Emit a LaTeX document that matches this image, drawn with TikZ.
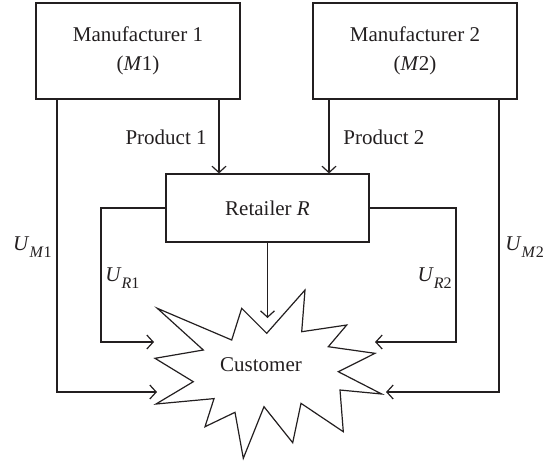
\documentclass[tikz,border=0pt]{standalone}
\usepackage{fontspec}
\setmainfont{Liberation Serif}
\usetikzlibrary{arrows.meta}
\definecolor{inkc}{RGB}{35,31,32}
% utility symbol U with an italic party letter and an upright index
\newcommand{\utilsym}[2]{\textit{U}\raisebox{-0.32em}{\fontsize{8}{9}\selectfont\textit{#1}#2}}
\begin{document}
\begin{tikzpicture}[x=0.5pt,y=-0.5pt,
  ink/.style={draw=inkc, line width=0.6pt},
  box/.style={ink, rectangle, minimum width=102pt, inner sep=0pt, align=center,
    font=\fontsize{10.5}{14.5}\selectfont, text=inkc},
  flow/.style={ink, -{Straight Barb[length=3.2pt,width=7pt]}},
  lbl/.style={font=\fontsize{10.5}{12}\selectfont, text=inkc, inner sep=0pt}]
\useasboundingbox (0,0) rectangle (555,462);

% parties
\node[box, minimum height=48pt] (M1) at (138,51) {Manufacturer 1\\(\textit{M}1)};
\node[box, minimum height=48pt] (M2) at (415,51) {Manufacturer 2\\(\textit{M}2)};
\node[box, minimum width=101.5pt, minimum height=34pt] (R) at (267.5,208) {Retailer \textit{R}};

% the customer burst
\draw[ink, line join=miter]
  (305,290) -- (301.7,331.7) -- (346.7,325) -- (328.3,346.7) -- (375,353.3)
  -- (338.3,371.7) -- (381.7,394) -- (340,390) -- (343.3,431.7) -- (301,403.3)
  -- (292.7,442.7) -- (264,406.7) -- (243.3,458.3) -- (235,412.3) -- (205,426.7)
  -- (214,398.6) -- (156,404) -- (193.3,381.7) -- (155,358.3) -- (203.3,350)
  -- (157.3,308.3) -- (231.7,340) -- (241.7,308.3) -- (266.7,333.3) -- cycle;
\node[lbl] (C) at (261,365) {Customer};

% arrow tips on the customer
\coordinate (cM1) at (157,392);
\coordinate (cM2) at (386,392);
\coordinate (cR1) at (154,342);
\coordinate (cR2) at (375,342);
\coordinate (cR)  at (267.5,318);

% product flows
\coordinate (p1) at (219,0);
\coordinate (p2) at (329,0);
\draw[flow] (p1 |- M1.south) -- (p1 |- R.north);
\draw[flow] (p2 |- M2.south) -- (p2 |- R.north);
\node[lbl, anchor=east] (P1) at (207,137) {Product 1};
\node[lbl, anchor=west] (P2) at (343,137) {Product 2};

% utility flows from manufacturers
\draw[flow] (57,0 |- M1.south) -- (57,0 |- cM1) -- (cM1);
\draw[flow] (499,0 |- M2.south) -- (499,0 |- cM2) -- (cM2);
\node[lbl, anchor=east] (UM1) at (52,247) {\utilsym{M}{1}};
\node[lbl, anchor=west] (UM2) at (505,247) {\utilsym{M}{2}};

% utility flows from retailer
\draw[flow] (R.west) -- (101,0 |- R.west) -- (101,0 |- cR1) -- (cR1);
\draw[flow] (R.east) -- (456,0 |- R.east) -- (456,0 |- cR2) -- (cR2);
\draw[flow] (R.south) -- (cR);
\node[lbl, anchor=west] (UR1) at (105,278) {\utilsym{R}{1}};
\node[lbl, anchor=east] (UR2) at (452,278) {\utilsym{R}{2}};
\end{tikzpicture}
\end{document}
